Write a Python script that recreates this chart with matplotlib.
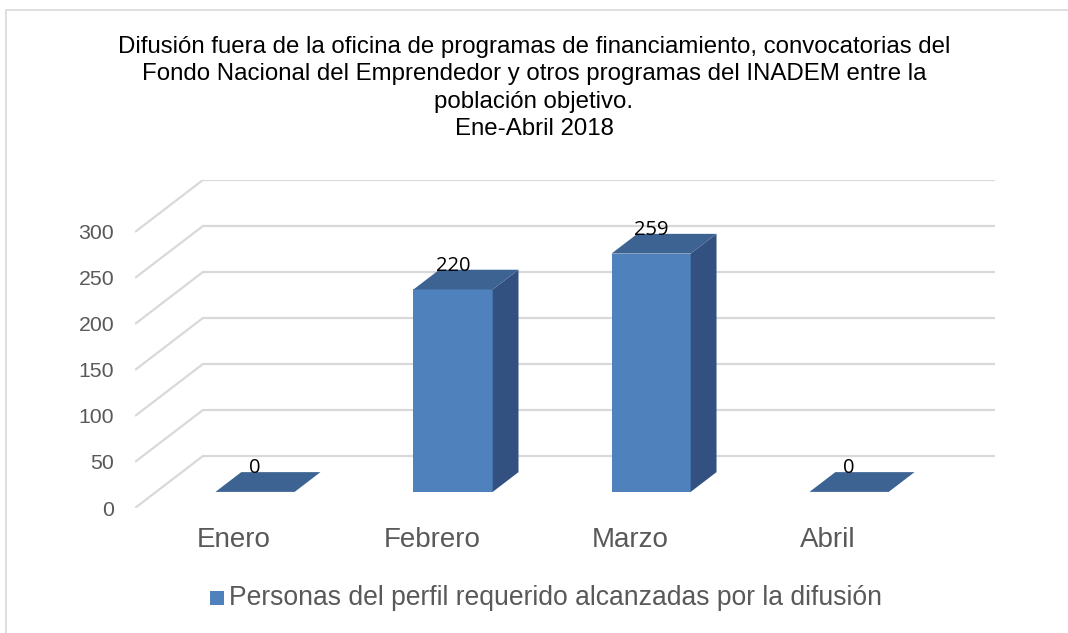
import matplotlib
matplotlib.use("Agg")
import matplotlib.pyplot as plt
from matplotlib.patches import Polygon, Rectangle

plt.rcParams['font.family'] = ['Liberation Sans', 'DejaVu Sans']

# data
months = ['Enero', 'Febrero', 'Marzo', 'Abril']
personas = [0, 220, 259, 0]
yticks = [0, 50, 100, 150, 200, 250, 300]
serie = 'Personas del perfil requerido alcanzadas por la difusión'
titulo = ('Difusión fuera de la oficina de programas de financiamiento, convocatorias del\n'
          'Fondo Nacional del Emprendedor y otros programas del INADEM entre la\n'
          'población objetivo.\nEne-Abril 2018')

# colours
c_front = '#4F81BD'
c_side = '#325180'
c_top = '#3C6392'
c_grid = '#D9D9D9'
c_text = '#595959'

# oblique depth (data units): full floor depth
DX, DY = 0.343, 56.5
d0, d1 = 0.31, 0.69   # bar depth range (fraction of floor depth)
bw = 0.40             # bar width (categories)

fig = plt.figure(figsize=(10.68, 6.33), dpi=100)
ax = fig.add_axes([135/1068, 1 - 508/633, 860/1068, 328/633])
ax.set_xlim(-0.5, 3.5 + DX)
ax.set_ylim(0, 300 + DY)
for s in ax.spines.values():
    s.set_visible(False)
ax.set_xticks([])
ax.set_yticks(yticks)
ax.set_yticklabels([str(v) for v in yticks], fontsize=15.3, color=c_text)
ax.tick_params(axis='y', length=0, pad=15)

# back wall gridlines + floor diagonals
for v in yticks:
    ax.plot([-0.5, -0.5 + DX, 3.5 + DX], [v, v + DY, v + DY],
            color=c_grid, lw=1.6, solid_capstyle='butt', zorder=1)


def oblique(x, y, d):
    return (x + DX * d, y + DY * d)


for i, (m, v) in enumerate(zip(months, personas)):
    xl, xr = i - bw / 2, i + bw / 2
    if v > 0:
        # front face
        ax.add_patch(Polygon([oblique(xl, 0, d0), oblique(xr, 0, d0),
                              oblique(xr, v, d0), oblique(xl, v, d0)],
                             closed=True, fc=c_front, ec='none', zorder=3))
        # side face
        ax.add_patch(Polygon([oblique(xr, 0, d0), oblique(xr, 0, d1),
                              oblique(xr, v, d1), oblique(xr, v, d0)],
                             closed=True, fc=c_side, ec='none', zorder=3))
    # top face
    ax.add_patch(Polygon([oblique(xl, v, d0), oblique(xr, v, d0),
                          oblique(xr, v, d1), oblique(xl, v, d1)],
                         closed=True, fc=c_top, ec='none', zorder=3))
    lx = oblique(i, v, d0)[0]
    ly = oblique(i, v, d1)[1]
    ax.text(lx, ly + 4, str(v), ha='center', va='center',
            fontsize=14.5, color='black', zorder=4,
            family=['Open Sans', 'DejaVu Sans'])
    ax.text(i, -35, m, ha='center', va='center', fontsize=20, color=c_text)

fig.text(0.5, 1 - 36/633, titulo, ha='center', va='top', fontsize=17.3,
         color='black', linespacing=1.31)

# legend
fig.patches.append(Rectangle((210/1068, 1 - 605/633), 14/1068, 14/633,
                             transform=fig.transFigure, fc=c_front, ec='none'))
fig.text(229/1068, 1 - 598/633, serie, ha='left', va='center',
         fontsize=19.1, color=c_text)

# chart border
fig.patches.append(Rectangle((6/1068, -0.05), 1.1, 1 - 10/633 + 0.05,
                             transform=fig.transFigure, fill=False,
                             ec='#D9D9D9', lw=1.2))

fig.savefig('out.png', dpi=100)
